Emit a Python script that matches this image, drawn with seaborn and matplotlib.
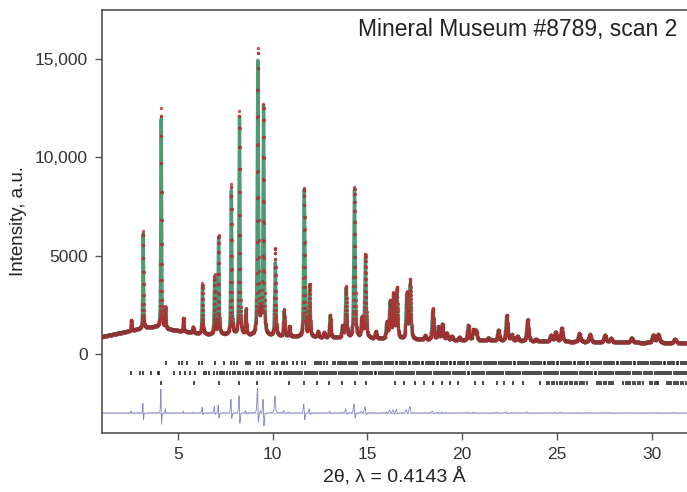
import numpy as np
import pandas as pd
import matplotlib
matplotlib.use("Agg")
import matplotlib.pyplot as plt
import seaborn as sns

# Bragg peaks: position (deg 2θ), observed net height, calculated net height
peak_pos = [2.55, 3.17, 4.12, 4.35, 5.30, 5.81, 6.30, 6.94, 7.15, 7.82, 8.25, 8.59,
            9.22, 9.38, 9.52, 10.14, 10.61, 10.89, 11.67, 11.95, 12.40, 12.72, 13.04,
            13.69, 13.88, 14.32, 14.71, 14.90, 15.45, 16.03, 16.20, 16.38, 16.56,
            17.08, 17.26, 18.05, 18.46, 18.75, 18.96, 19.19, 19.46, 19.86, 20.33,
            20.60, 20.74, 21.39, 21.92, 22.36, 22.62, 22.92, 23.46, 23.90, 24.69,
            24.94, 25.26, 26.19, 26.75, 27.54, 27.86, 28.95, 30.09, 30.35, 31.23]
peak_obs = [550, 4950, 11160, 1100, 700, 300, 2550, 3000, 5050, 7650, 11370, 1300,
            14530, 900, 11670, 4480, 1360, 500, 7570, 2650, 300, 250, 1160,
            570, 2600, 7660, 1000, 4270, 350, 800, 1880, 2220, 2560,
            2330, 3000, 200, 1580, 650, 800, 350, 200, 160, 750,
            530, 500, 150, 550, 1310, 300, 250, 1100, 100, 320,
            490, 700, 430, 390, 370, 210, 250, 400, 430, 200]
peak_calc = [480, 4850, 10700, 950, 650, 280, 2400, 2800, 4950, 7350, 11120, 1250,
             13950, 850, 11650, 3730, 1300, 480, 7500, 2550, 290, 240, 1120,
             550, 2500, 7520, 950, 4100, 340, 780, 1800, 2150, 2450,
             2250, 2740, 190, 1530, 630, 780, 340, 190, 150, 730,
             510, 490, 150, 540, 1280, 290, 240, 1070, 100, 310,
             480, 680, 420, 380, 360, 200, 240, 390, 420, 190]

# background level
bg_pos = [1.0, 2.0, 3.0, 3.8, 4.5, 5.5, 6.5, 8.0, 10.0, 12.0, 14.0, 16.0, 18.0,
          20.0, 24.0, 28.0, 32.0]
bg_val = [880, 1080, 1280, 1380, 1250, 1120, 1000, 950, 900, 850, 800, 760, 720,
          690, 640, 590, 550]

# reflection positions for the three phases
refl_1 = [4.37, 5.07, 5.22, 5.51, 6.13, 6.30, 6.97, 7.45, 7.82, 7.94, 8.12, 8.59, 8.70,
          8.82, 9.20, 9.35, 9.49, 9.96, 10.08, 10.23, 10.49, 10.61, 10.75, 11.10, 11.28,
          11.58, 11.72, 12.25, 12.36, 12.47, 12.58, 12.71, 12.86, 13.21, 13.31, 13.43,
          13.54, 13.67, 13.78, 13.89, 14.02, 14.12, 14.23, 14.35, 14.45, 14.79, 14.88,
          15.01, 15.11, 15.23, 15.34, 15.46, 15.55, 15.68, 15.79, 15.92, 16.02, 16.13,
          16.26, 16.36, 16.49, 16.59, 16.73, 16.82, 16.95, 17.05, 17.18, 17.27, 17.41,
          17.50, 17.63, 17.73, 17.86, 17.96, 18.09, 18.18, 18.31, 18.42, 18.52, 18.66,
          18.75, 18.88, 18.98, 19.11, 19.20, 19.34, 19.43, 19.56, 19.65, 19.79, 19.88,
          20.01, 20.11, 20.24, 20.33, 20.47, 20.56, 20.69, 20.78, 20.92, 21.01, 21.14,
          21.24, 21.36, 21.47, 21.57, 21.70, 21.80, 21.93, 22.03, 22.16, 22.26, 22.38,
          22.49, 22.60, 22.72, 22.82, 22.95, 23.05, 23.17, 23.28, 23.40, 23.50, 23.63,
          23.72, 23.86, 23.95, 24.08, 24.18, 24.31, 24.40, 24.54, 24.63, 24.76, 24.86,
          24.99, 25.08, 25.21, 25.31, 25.44, 25.53, 25.66, 25.76, 25.89, 25.98, 26.12,
          26.21, 26.34, 26.44, 26.57, 26.66, 26.79, 26.89, 27.02, 27.11, 27.25, 27.34,
          27.47, 27.57, 27.70, 27.79, 27.92, 28.02, 28.15, 28.24, 28.38, 28.47, 28.60,
          28.70, 28.83, 28.92, 29.06, 29.15, 29.28, 29.38, 29.51, 29.60, 29.73, 29.83,
          29.96, 30.05, 30.19, 30.28, 30.41, 30.51, 30.64, 30.73, 30.86, 30.96, 31.09,
          31.18, 31.32, 31.41, 31.54, 31.64, 31.77, 31.86]
refl_2 = [2.54, 2.98, 3.16, 3.60, 3.93, 4.03, 4.81, 5.09, 5.39, 5.65, 5.92, 6.36, 6.50,
          6.67, 6.89, 7.09, 7.21, 7.33, 7.46, 7.59, 7.76, 7.90, 8.03, 8.16, 8.29, 8.46,
          8.58, 8.72, 8.86, 8.99, 9.17, 9.30, 9.42, 9.55, 9.69, 9.87, 10.14, 10.25,
          10.37, 10.46, 10.58, 10.69, 10.80, 10.92, 11.03, 11.13, 11.25, 11.36, 11.47,
          11.58, 11.70, 11.80, 11.92, 12.03, 12.14, 12.26, 12.36, 12.48, 12.59, 12.70,
          12.81, 12.92, 13.04, 13.14, 13.26, 13.37, 13.48, 13.59, 13.70, 13.82, 13.92,
          14.04, 14.15, 14.26, 14.37, 14.48, 14.60, 14.70, 14.82, 14.93, 15.04, 15.15,
          15.26, 15.38, 15.48, 15.60, 15.71, 15.82, 15.93, 16.04, 16.16, 16.26, 16.38,
          16.49, 16.60, 16.71, 16.83, 16.94, 17.04, 17.16, 17.27, 17.38, 17.49, 17.61,
          17.71, 17.83, 17.94, 18.05, 18.16, 18.28, 18.38, 18.50, 18.61, 18.72, 18.83,
          18.95, 19.05, 19.17, 19.28, 19.39, 19.50, 19.62, 19.72, 19.84, 19.95, 20.06,
          20.17, 20.29, 20.39, 20.51, 20.62, 20.73, 20.84, 20.96, 21.06, 21.18, 21.29,
          21.40, 21.51, 21.63, 21.73, 21.85, 21.96, 22.07, 22.18, 22.30, 22.40, 22.52,
          22.63, 22.74, 22.85, 22.97, 23.07, 23.19, 23.30, 23.41, 23.52, 23.64, 23.74,
          23.86, 23.97, 24.08, 24.19, 24.31, 24.41, 24.53, 24.64, 24.75, 24.86, 24.98,
          25.08, 25.20, 25.31, 25.42, 25.53, 25.65, 25.75, 25.87, 25.98, 26.09, 26.20,
          26.32, 26.42, 26.54, 26.65, 26.76, 26.87, 26.99, 27.09, 27.21, 27.32, 27.43,
          27.54, 27.66, 27.76, 27.88, 27.99, 28.10, 28.21, 28.33, 28.43, 28.55, 28.66,
          28.77, 28.88, 29.00, 29.10, 29.22, 29.33, 29.44, 29.60, 29.71, 29.82, 29.94,
          30.04, 30.16, 30.27, 30.38, 30.49, 30.61, 30.71, 30.83, 30.94, 31.05, 31.16,
          31.28, 31.38, 31.50, 31.61, 31.72, 31.83]
refl_3 = [4.12, 5.83, 7.15, 8.25, 9.17, 10.89, 11.67, 12.34, 13.00, 13.69, 14.36, 14.92,
          16.47, 16.91, 17.52, 17.97, 18.49, 18.93, 19.37, 19.81, 20.69, 21.13, 21.83,
          22.19, 22.71, 23.24, 24.11, 24.47, 24.60, 24.73, 24.86, 24.99, 25.17, 25.30,
          25.42, 25.52, 25.69, 25.82, 25.95, 26.07, 26.20, 26.33, 26.45, 26.57, 27.10,
          27.22, 27.35, 27.47, 27.60, 27.73, 27.85, 27.98, 28.50, 28.63, 28.75, 28.88,
          29.01, 29.13, 29.26, 29.39, 29.56, 29.91, 30.03, 30.16, 30.28, 30.35, 30.80,
          30.92, 31.05, 31.17, 31.30, 31.42, 31.55, 31.67, 31.80]

x_label = "2θ, λ = 0.4143 Å"
y_label = "Intensity, a.u."
title = "Mineral Museum #8789, scan 2"
y_ticks = [0, 5000, 10000, 15000]
y_tick_labels = ["0", "5000", "10,000", "15,000"]
x_ticks = [5, 10, 15, 20, 25, 30]

# scan grid in degrees 2θ
two_theta = np.arange(1.0, 31.9, 0.005)


def pattern(x, pos, heights, shift=0.0):
    """Background plus pseudo-Voigt peaks with angle-dependent width."""
    y = np.interp(x, bg_pos, bg_val).astype(float)
    for p, h in zip(pos, heights):
        w = 0.035 + 0.0035 * p
        d = x - p - shift
        g = np.exp(-4 * np.log(2) * d ** 2 / w ** 2)
        lor = 1.0 / (1.0 + 4 * d ** 2 / w ** 2)
        y += h * (0.5 * g + 0.5 * lor)
    return y


obs = pattern(two_theta, peak_pos, peak_obs)
calc = pattern(two_theta, peak_pos, peak_calc, shift=0.003)
diff_offset = -3000
df = pd.DataFrame({"tt": two_theta, "obs": obs, "calc": calc,
                   "diff": obs - calc + diff_offset})

sns.set_style("white")
plt.rcParams["font.family"] = ["Liberation Sans", "DejaVu Sans"]

fig = plt.figure(figsize=(6.87, 4.92), dpi=100)
ax = fig.add_axes([102 / 687, 1 - 433 / 492, 1 - 102 / 687, (433 - 10) / 492])

ax.axhline(diff_offset, color="#cfcfd9", lw=0.9, zorder=1)
sns.lineplot(data=df, x="tt", y="diff", ax=ax, color="#8487c8", lw=0.6,
             estimator=None, sort=False, zorder=2)
sns.lineplot(data=df, x="tt", y="calc", ax=ax, color="#4f9a75", lw=2.4,
             estimator=None, sort=False, zorder=3)
sns.scatterplot(data=df, x="tt", y="obs", ax=ax, color="#c83232", s=4.5,
                edgecolor="#7a3232", linewidth=0.25, alpha=0.8, zorder=4)

for refl, level in ((refl_1, -470), (refl_2, -980), (refl_3, -1480)):
    ax.plot(refl, [level] * len(refl), ls="none", marker="|", ms=3.4,
            mew=1.1, color="#1a1a1a", zorder=3)

ax.set_xlim(1.0, 31.87)
ax.set_ylim(-4020, 17500)
ax.set_xticks(x_ticks)
ax.set_yticks(y_ticks)
ax.set_yticklabels(y_tick_labels)
ax.set_xlabel(x_label, fontsize=14, color="#222222", labelpad=4)
ax.set_ylabel(y_label, fontsize=13.5, color="#222222", labelpad=6)
ax.tick_params(axis="both", which="major", direction="out", length=5, width=1,
               color="#555555", labelsize=12.5, labelcolor="#333333", pad=5,
               left=True, bottom=True)
for side in ("left", "bottom", "top"):
    ax.spines[side].set_color("#444444")
    ax.spines[side].set_linewidth(1.1)
ax.spines["right"].set_visible(False)

fig.text(677 / 687, 1 - 36 / 492, title, ha="right", va="baseline",
         fontsize=16.5, color="#222222")

fig.savefig("out.png", dpi=100)
